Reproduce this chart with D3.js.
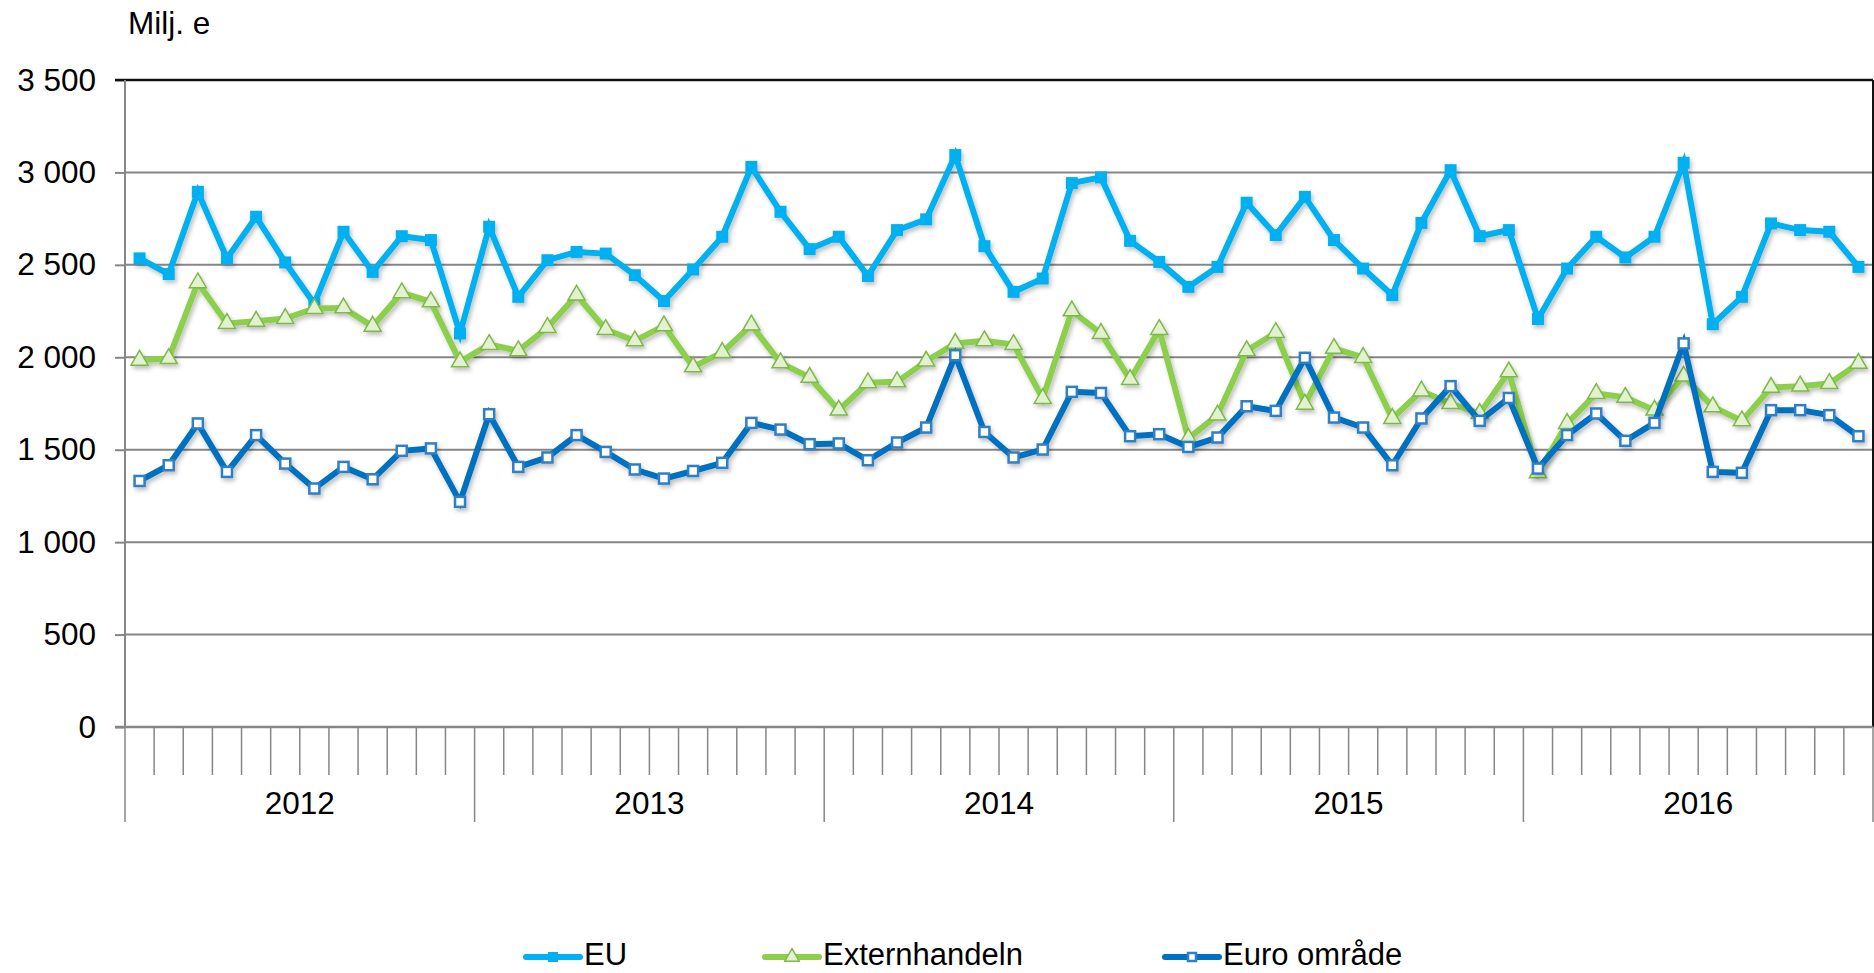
<!DOCTYPE html>
<html lang="sv">
  <head>
    <meta charset="utf-8">
    <script src="https://d3js.org/d3.v7.min.js"></script>
    <title>Milj. e</title>
    <style>
      body { margin: 0; background: #fff; }
      text { font-family: "Liberation Sans", Arial, sans-serif; fill: #000; }
    </style>
  </head>
  <body>
    <script>

    var years = ["2012", "2013", "2014", "2015", "2016"];
    var yTicks = [0, 500, 1000, 1500, 2000, 2500, 3000, 3500];

    var eu = [2535, 2450, 2895, 2535, 2760, 2513, 2290, 2679, 2462, 2655, 2634, 2129,
              2706, 2327, 2525, 2570, 2561, 2444, 2304, 2475, 2652, 3030, 2787, 2585,
              2652, 2440, 2688, 2746, 3094, 2601, 2354, 2426, 2942, 2973, 2630, 2516,
              2381, 2489, 2836, 2661, 2868, 2634, 2480, 2336, 2727, 3012, 2655, 2688,
              2207, 2480, 2652, 2540, 2652, 3052, 2179, 2327, 2724, 2688, 2679, 2489];

    var extern = [1984, 1993, 2403, 2183, 2195, 2210, 2264, 2267, 2168, 2349, 2300, 1975,
                  2069, 2035, 2161, 2336, 2150, 2089, 2170, 1948, 2026, 2174, 1970, 1891,
                  1714, 1862, 1867, 1979, 2075, 2089, 2069, 1777, 2251, 2129, 1880, 2150,
                  1561, 1687, 2035, 2134, 1746, 2048, 1999, 1669, 1817, 1750, 1696, 1921,
                  1375, 1642, 1804, 1783, 1714, 1898, 1732, 1656, 1837, 1844, 1858, 1967];

    var euro = [1331, 1416, 1642, 1380, 1579, 1425, 1290, 1407, 1340, 1494, 1507, 1218,
                1692, 1407, 1458, 1579, 1488, 1393, 1344, 1385, 1429, 1645, 1609, 1530,
                1534, 1443, 1539, 1620, 2011, 1596, 1458, 1501, 1813, 1807, 1573, 1584,
                1515, 1566, 1735, 1710, 1997, 1674, 1620, 1416, 1669, 1844, 1656, 1780,
                1398, 1579, 1696, 1548, 1645, 2075, 1380, 1375, 1714, 1714, 1687, 1573];

    var seriesNames = ["EU", "Externhandeln", "Euro område"];

    var W = 1874, H = 973;
    var margin = {top: 80, left: 125, right: 1, bottom: 246};
    var width = W - margin.left - margin.right,
        height = H - margin.top - margin.bottom;

    var nMonths = years.length * 12;
    var months = d3.range(nMonths);

    var x = d3.scaleBand().domain(months).range([0, width]);
    var y = d3.scaleLinear().domain([0, 3500]).range([height, 0]);

    var fmt = function(d) { return d3.format(",")(d).replace(/,/g, " "); };

    var svg = d3.select("body").append("svg")
        .attr("width", W)
        .attr("height", H);

    var defs = svg.append("defs");
    var f = defs.append("filter").attr("id", "shadow")
        .attr("x", "-10%").attr("y", "-10%").attr("width", "120%").attr("height", "120%");
    f.append("feDropShadow")
        .attr("dx", 2).attr("dy", 3).attr("stdDeviation", 2)
        .attr("flood-color", "#000").attr("flood-opacity", 0.25);

    var g = svg.append("g")
        .attr("transform", "translate(" + [margin.left, margin.top] + ")");

    // y axis with gridlines
    var yAxis = g.append("g")
        .call(d3.axisLeft(y).tickValues(yTicks).tickSize(10).tickFormat(fmt).tickPadding(19));
    yAxis.select(".domain").remove();
    yAxis.selectAll("line").attr("stroke", "#868686").attr("stroke-width", 2);
    yAxis.selectAll("text").style("font-size", "31.5px");

    g.append("g").selectAll("line")
      .data(yTicks.filter(function(d) { return d > 0 && d < 3500; }))
      .enter().append("line")
        .attr("x1", 0).attr("x2", width)
        .attr("y1", function(d) { return y(d); })
        .attr("y2", function(d) { return y(d); })
        .attr("stroke", "#868686").attr("stroke-width", 2);

    // frame: top and right dark, left and bottom grey
    g.append("line").attr("x1", -10).attr("x2", width).attr("y1", 0).attr("y2", 0)
        .attr("stroke", "#111").attr("stroke-width", 2.5);
    g.append("line").attr("x1", width).attr("x2", width).attr("y1", 0).attr("y2", height)
        .attr("stroke", "#111").attr("stroke-width", 2);
    g.append("line").attr("x1", 0).attr("x2", 0).attr("y1", 0).attr("y2", height)
        .attr("stroke", "#868686").attr("stroke-width", 2);

    // x axis: month ticks and year dividers
    var xa = g.append("g").attr("transform", "translate(0," + height + ")");
    xa.append("line").attr("x1", -10).attr("x2", width).attr("y1", 0).attr("y2", 0)
        .attr("stroke", "#868686").attr("stroke-width", 2.5);
    xa.selectAll(".mtick")
      .data(d3.range(nMonths + 1))
      .enter().append("line")
        .attr("class", "mtick")
        .attr("x1", function(i) { return i * x.step(); })
        .attr("x2", function(i) { return i * x.step(); })
        .attr("y1", 0)
        .attr("y2", function(i) { return i % 12 === 0 ? 95 : 48; })
        .attr("stroke", "#868686").attr("stroke-width", 1.5);
    xa.selectAll(".ylab")
      .data(years)
      .enter().append("text")
        .attr("class", "ylab")
        .attr("x", function(d, i) { return x(i * 12) + x.step() * 6; })
        .attr("y", 87)
        .attr("text-anchor", "middle")
        .style("font-size", "31.5px")
        .text(function(d) { return d; });

    // unit label
    svg.append("text")
        .attr("x", 128).attr("y", 34)
        .style("font-size", "31.5px")
        .text("Milj. e");

    var cx = function(d, i) { return x(i) + x.bandwidth() / 2; };
    var line = d3.line().x(cx).y(function(d) { return y(d); });

    var series = [
      {name: seriesNames[0], values: eu, color: "#00b0f0", marker: "sqfill"},
      {name: seriesNames[1], values: extern, color: "#8ccf4d", marker: "tri"},
      {name: seriesNames[2], values: euro, color: "#0070c0", marker: "sqopen"}
    ];

    function drawMarker(sel, s, size) {
      if (s.marker === "sqfill") {
        sel.append("rect")
          .attr("x", -size / 2).attr("y", -size / 2)
          .attr("width", size).attr("height", size)
          .attr("fill", s.color);
      } else if (s.marker === "sqopen") {
        sel.append("rect")
          .attr("x", -size / 2 + 1).attr("y", -size / 2 + 1)
          .attr("width", size - 2).attr("height", size - 2)
          .attr("fill", "#fff").attr("stroke", "#2e7fc4").attr("stroke-width", 2.5);
      } else {
        sel.append("path")
          .attr("d", d3.symbol().type(d3.symbolTriangle).size(size * size * 0.75)())
          .attr("fill", "#e2f1cf").attr("stroke", "#7fb84a").attr("stroke-width", 1.5);
      }
    }

    series.forEach(function(s) {
      var sg = g.append("g").attr("filter", "url(#shadow)");
      sg.append("path")
        .datum(s.values)
        .attr("fill", "none")
        .attr("stroke", s.color)
        .attr("stroke-width", 6)
        .attr("stroke-linejoin", "miter")
        .attr("d", line);
      sg.selectAll(".m")
        .data(s.values)
        .enter().append("g")
          .attr("transform", function(d, i) { return "translate(" + [cx(d, i), y(d)] + ")"; })
          .each(function() { drawMarker(d3.select(this), s, s.marker === "tri" ? 13 : 12); });
    });

    // legend
    var legX = [526, 765, 1165];
    var leg = svg.append("g").attr("transform", "translate(0,957)");
    series.forEach(function(s, i) {
      var lg = leg.append("g").attr("transform", "translate(" + legX[i] + ",0)");
      lg.append("line").attr("x1", 0).attr("x2", 54).attr("y1", 0).attr("y2", 0)
        .attr("stroke", s.color).attr("stroke-width", 6).attr("stroke-linecap", "round");
      var mk = lg.append("g").attr("transform", "translate(27,0)");
      drawMarker(mk, s, s.marker === "tri" ? 11 : 10);
      lg.append("text").attr("x", 58).attr("y", 8)
        .style("font-size", "31px")
        .text(s.name);
    });
    </script>
  </body>
</html>
